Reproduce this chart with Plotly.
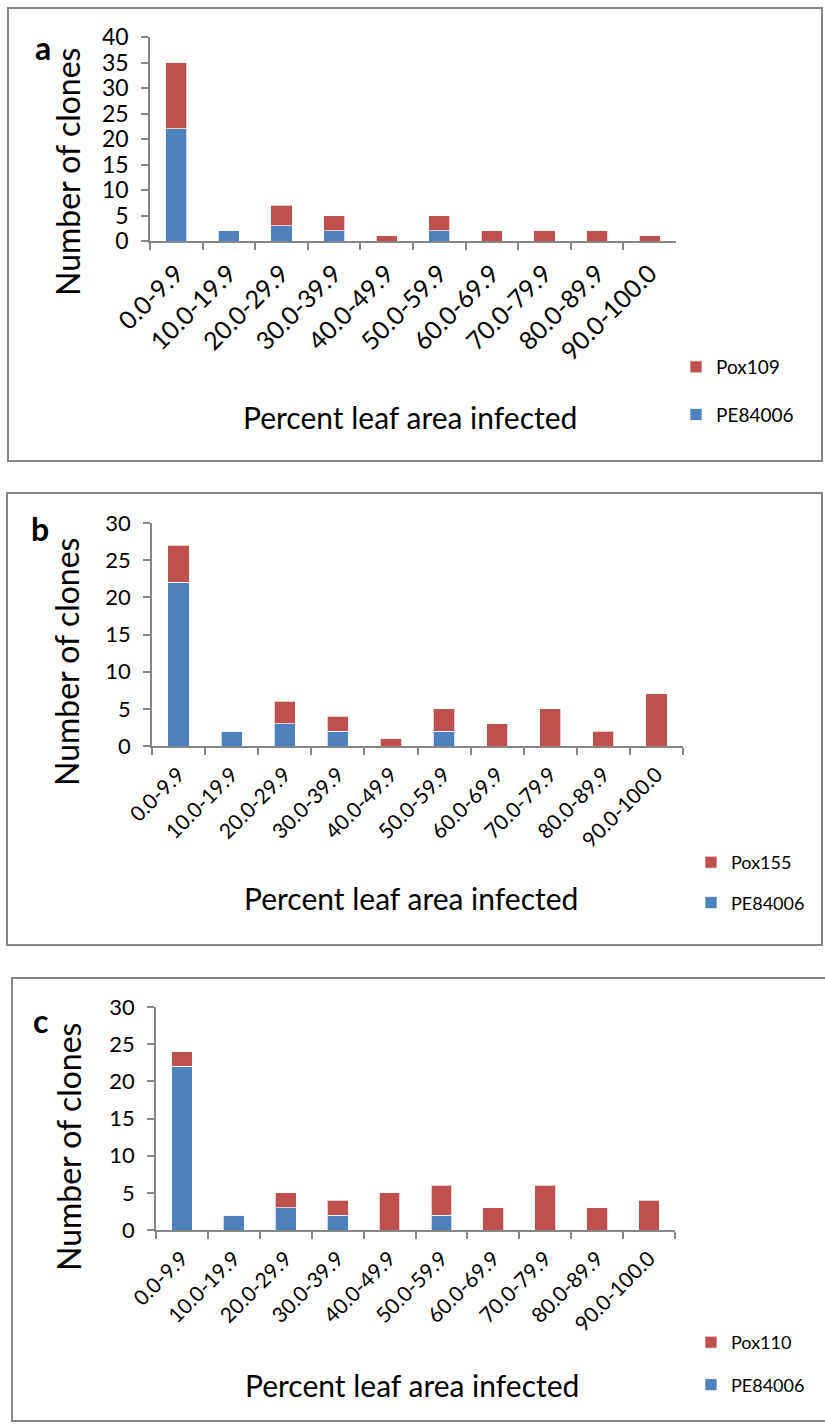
import plotly.graph_objects as go

categories = ["0.0-9.9", "10.0-19.9", "20.0-29.9", "30.0-39.9", "40.0-49.9",
              "50.0-59.9", "60.0-69.9", "70.0-79.9", "80.0-89.9", "90.0-100.0"]

pe84006_a = [22, 2, 3, 2, 0, 2, 0, 0, 0, 0]
pox109_a = [13, 0, 4, 3, 1, 3, 2, 2, 2, 1]

pe84006_b = [22, 2, 3, 2, 0, 2, 0, 0, 0, 0]
pox155_b = [5, 0, 3, 2, 1, 3, 3, 5, 2, 7]

pe84006_c = [22, 2, 3, 2, 0, 2, 0, 0, 0, 0]
pox110_c = [2, 0, 2, 2, 5, 4, 3, 6, 3, 4]

panel_letters = ["a", "b", "c"]
pox_names = ["Pox109", "Pox155", "Pox110"]
y_max = [40, 30, 30]

W, H = 825, 1425
BLUE = "#4F81BD"
RED = "#C0504D"
GRAY = "#868686"
FONT = "Lato"


def px(x):
    return x / W


def py(y):
    return 1 - y / H


# layout geometry (pixels)
panels = [
    dict(box=(8, 8, 822, 461), xdom=(150, 676), ydom=(37, 241), letter=(43, 48),
         ytitle=(68, 172), xtitle=(410, 417), legend=(676, 348), tfs=23, xfs=25, lfs=19, gap=20),
    dict(box=(7, 493, 822, 945), xdom=(152, 683), ydom=(523, 746), letter=(40, 528),
         ytitle=(66, 662), xtitle=(411, 898), legend=(691, 844), tfs=22, xfs=21, lfs=18, gap=14),
    dict(box=(12, 978, 830, 1421), xdom=(156, 675), ydom=(1007, 1230), letter=(40, 1020),
         ytitle=(68, 1147), xtitle=(412, 1385), legend=(691, 1324), tfs=22, xfs=21, lfs=18, gap=16),
]

blue_series = [pe84006_a, pe84006_b, pe84006_c]
red_series = [pox109_a, pox155_b, pox110_c]

fig = go.Figure()
shapes = []
annotations = []
layout = dict(width=W, height=H, margin=dict(l=0, r=0, t=0, b=0, autoexpand=False),
              template="none",
              paper_bgcolor="white", plot_bgcolor="white",
              barmode="stack", bargap=0.6, showlegend=True,
              font=dict(family=FONT, color="black"))

for i, p in enumerate(panels):
    n = "" if i == 0 else str(i + 1)
    xa, ya = "x" + n, "y" + n
    leg = "legend" + n
    fig.add_trace(go.Bar(x=categories, y=blue_series[i], name="PE84006",
                         marker=dict(color=BLUE, line=dict(color="rgba(255,255,255,0.7)", width=1)),
                         xaxis=xa, yaxis=ya, legend=leg, legendgroup="b" + n, legendrank=2))
    fig.add_trace(go.Bar(x=categories, y=red_series[i], name=pox_names[i],
                         marker=dict(color=RED, line=dict(color="rgba(255,255,255,0.7)", width=1)),
                         xaxis=xa, yaxis=ya, legend=leg, legendgroup="r" + n, legendrank=1))
    layout["xaxis" + n] = dict(
        domain=[px(p["xdom"][0]), px(p["xdom"][1])], anchor=ya, automargin=False,
        type="category", showline=True, linecolor=GRAY, linewidth=2,
        ticks="outside", tickson="boundaries", ticklen=7, tickcolor=GRAY, tickwidth=2,
        tickangle=-45, tickfont=dict(size=p["xfs"], family=FONT), showgrid=False,
        ticklabelstandoff=6, range=[-0.5, 9.5], fixedrange=True)
    layout["yaxis" + n] = dict(
        domain=[py(p["ydom"][1]), py(p["ydom"][0])], anchor=xa, automargin=False,
        range=[0, y_max[i]], dtick=5, showline=True, linecolor=GRAY, linewidth=1.5,
        ticks="outside", ticklen=7, tickcolor=GRAY, tickwidth=1.5, showgrid=False,
        ticklabelstandoff=8,
        zeroline=False, tickfont=dict(size=p["tfs"], family=FONT), fixedrange=True)
    layout[leg] = dict(x=px(p["legend"][0]), y=py(p["legend"][1]), xanchor="left", yanchor="top",
                       traceorder="grouped", tracegroupgap=p["gap"],
                       font=dict(size=p["lfs"], family=FONT), bgcolor="rgba(0,0,0,0)",
                       itemwidth=30)
    b = p["box"]
    shapes.append(dict(type="rect", xref="paper", yref="paper",
                       x0=px(b[0]), x1=px(b[2]), y0=py(b[3]), y1=py(b[1]),
                       line=dict(color=GRAY, width=2)))
    annotations.append(dict(text="<b>%s</b>" % panel_letters[i], xref="paper", yref="paper",
                            x=px(p["letter"][0]), y=py(p["letter"][1]), showarrow=False,
                            xanchor="center", yanchor="middle", font=dict(size=32, family=FONT)))
    annotations.append(dict(text="Number of clones", xref="paper", yref="paper", textangle=-90,
                            x=px(p["ytitle"][0]), y=py(p["ytitle"][1]), showarrow=False,
                            xanchor="center", yanchor="middle", font=dict(size=32, family=FONT)))
    annotations.append(dict(text="Percent leaf area infected", xref="paper", yref="paper",
                            x=px(p["xtitle"][0]), y=py(p["xtitle"][1]), showarrow=False,
                            xanchor="center", yanchor="middle", font=dict(size=30, family=FONT)))

layout["shapes"] = shapes
layout["annotations"] = annotations
fig.update_layout(**layout)
fig.write_html("out.html", config={"displayModeBar": False},
               post_script="document.body.style.margin='0';document.body.style.overflow='hidden';")
